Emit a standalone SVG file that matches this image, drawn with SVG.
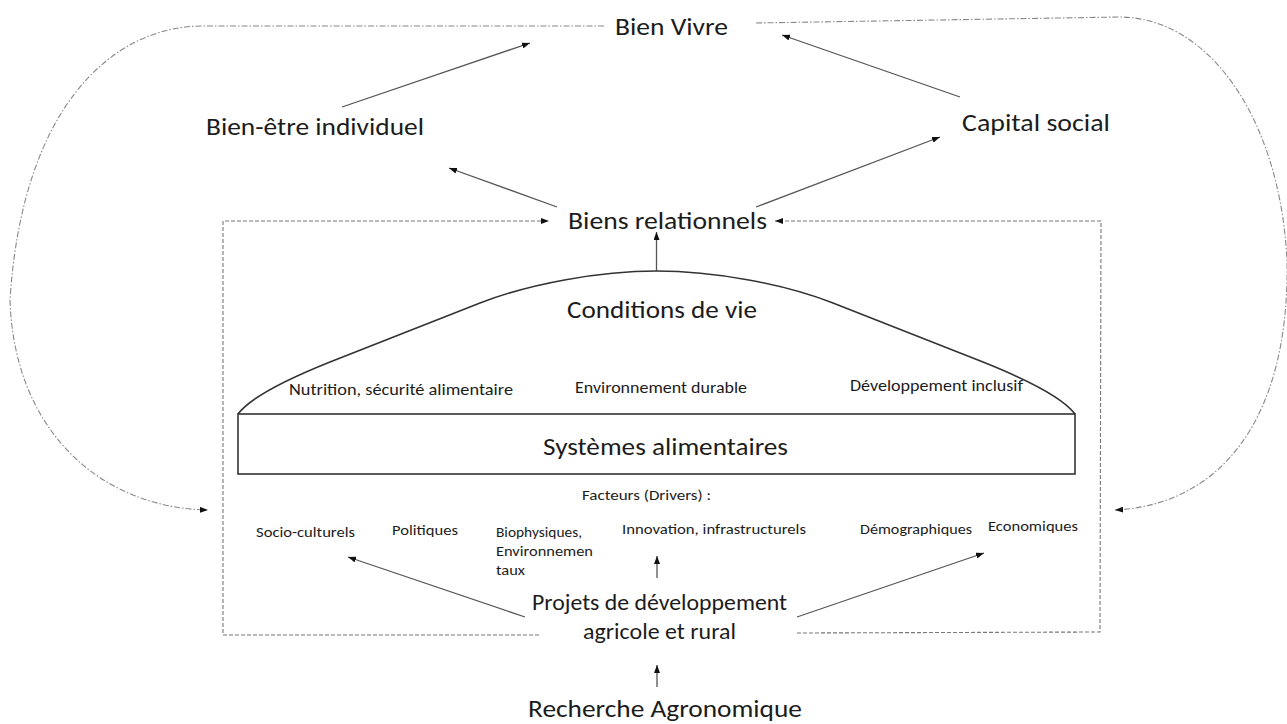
<svg xmlns="http://www.w3.org/2000/svg" width="1287" height="724" viewBox="0 0 1287 724">
<style>
text{font-family:Carlito,Lato,"Liberation Sans",sans-serif;fill:#1c1c1c;}
.big{font-size:25px;}
.mid{font-size:22px;}
.sub{font-size:16px;}
.sm{font-size:15px;}
.arr{stroke:#555;stroke-width:1.3;fill:none;marker-end:url(#ah);}
.box{stroke:#777;stroke-width:1.1;fill:none;stroke-dasharray:4 2;}
.loop{stroke:#888;stroke-width:1.1;fill:none;stroke-dasharray:6 2 1.5 2;}
.shape{stroke:#333;stroke-width:1.6;fill:none;}
</style>
<defs>
<marker id="ah" viewBox="0 0 8 6" refX="8" refY="3" markerWidth="8" markerHeight="6" markerUnits="userSpaceOnUse" orient="auto">
<path d="M0,0 L8,3 L0,6 z" fill="#111"/>
</marker>
</defs>
<rect width="1287" height="724" fill="#fff"/>

<g id="connectors">
<path class="loop" d="M604,26 L203,26 C110,26 22,110 10,300 C14,430 100,508 208,510" marker-end="url(#ah)"/>
<path class="loop" d="M756,23 L1119,17 C1210,17 1280,120 1287,260 C1290,420 1220,505 1115,510" marker-end="url(#ah)"/>
<path class="box" d="M539,635 L223,635 L223,221 L549,221" marker-end="url(#ah)"/>
<path class="box" d="M797,633 L1100,632 L1101,221 L775,221" marker-end="url(#ah)"/>
<line class="arr" x1="342" y1="107" x2="530" y2="43"/>
<line class="arr" x1="960" y1="97" x2="782" y2="35"/>
<line class="arr" x1="557" y1="207" x2="449" y2="168"/>
<line class="arr" x1="756" y1="207" x2="940" y2="137"/>
<line class="arr" x1="656.5" y1="271" x2="656.5" y2="232"/>
<line class="arr" x1="525" y1="617" x2="348" y2="557"/>
<line class="arr" x1="657" y1="578" x2="657" y2="556"/>
<line class="arr" x1="797" y1="617" x2="984" y2="553"/>
<line class="arr" x1="657" y1="687" x2="657" y2="665"/>
</g>

<g id="bien-vivre"><text class="big" x="615" y="35" textLength="113" lengthAdjust="spacingAndGlyphs">Bien Vivre</text></g>
<g id="bien-etre"><text class="big" x="206" y="135" textLength="218" lengthAdjust="spacingAndGlyphs">Bien-être individuel</text></g>
<g id="capital-social"><text class="big" x="962" y="131" textLength="148" lengthAdjust="spacingAndGlyphs">Capital social</text></g>
<g id="biens-relationnels"><text class="big" x="568" y="229" textLength="199" lengthAdjust="spacingAndGlyphs">Biens relationnels</text></g>

<g id="conditions-de-vie">
<path class="shape" d="M238,414 C250,398 285,380 330,362 L480,303 C530,283.5 600,271 656.5,271 C713,271 783,283.5 833,303 L983,362 C1028,380 1063,398 1075,414"/>
<text class="big" x="567" y="318" textLength="190" lengthAdjust="spacingAndGlyphs">Conditions de vie</text>
<text class="sub" x="289" y="395" textLength="224" lengthAdjust="spacingAndGlyphs">Nutrition, sécurité alimentaire</text>
<text class="sub" x="575" y="393" textLength="172" lengthAdjust="spacingAndGlyphs">Environnement durable</text>
<text class="sub" x="850" y="391" textLength="173" lengthAdjust="spacingAndGlyphs">Développement inclusif</text>
</g>

<g id="systemes-alimentaires">
<rect class="shape" x="238" y="414" width="837" height="60"/>
<text class="big" x="543" y="455" textLength="245" lengthAdjust="spacingAndGlyphs">Systèmes alimentaires</text>
</g>

<g id="facteurs">
<text class="sm" x="582" y="500" textLength="129" lengthAdjust="spacingAndGlyphs">Facteurs (Drivers) :</text>
<text class="sm" x="256" y="537" textLength="99" lengthAdjust="spacingAndGlyphs">Socio-culturels</text>
<text class="sm" x="392" y="535" textLength="66" lengthAdjust="spacingAndGlyphs">Politiques</text>
<text class="sm" x="496" y="537" textLength="86" lengthAdjust="spacingAndGlyphs">Biophysiques,</text>
<text class="sm" x="496" y="556" textLength="97" lengthAdjust="spacingAndGlyphs">Environnemen</text>
<text class="sm" x="496" y="575" textLength="29" lengthAdjust="spacingAndGlyphs">taux</text>
<text class="sm" x="622" y="534" textLength="184" lengthAdjust="spacingAndGlyphs">Innovation, infrastructurels</text>
<text class="sm" x="860" y="534" textLength="112" lengthAdjust="spacingAndGlyphs">Démographiques</text>
<text class="sm" x="988" y="531" textLength="90" lengthAdjust="spacingAndGlyphs">Economiques</text>
</g>

<g id="projets">
<text class="mid" x="532" y="610" textLength="255" lengthAdjust="spacingAndGlyphs">Projets de développement</text>
<text class="mid" x="583" y="639" textLength="153" lengthAdjust="spacingAndGlyphs">agricole et rural</text>
</g>

<g id="recherche"><text class="big" x="528" y="717" textLength="274" lengthAdjust="spacingAndGlyphs">Recherche Agronomique</text></g>
</svg>
